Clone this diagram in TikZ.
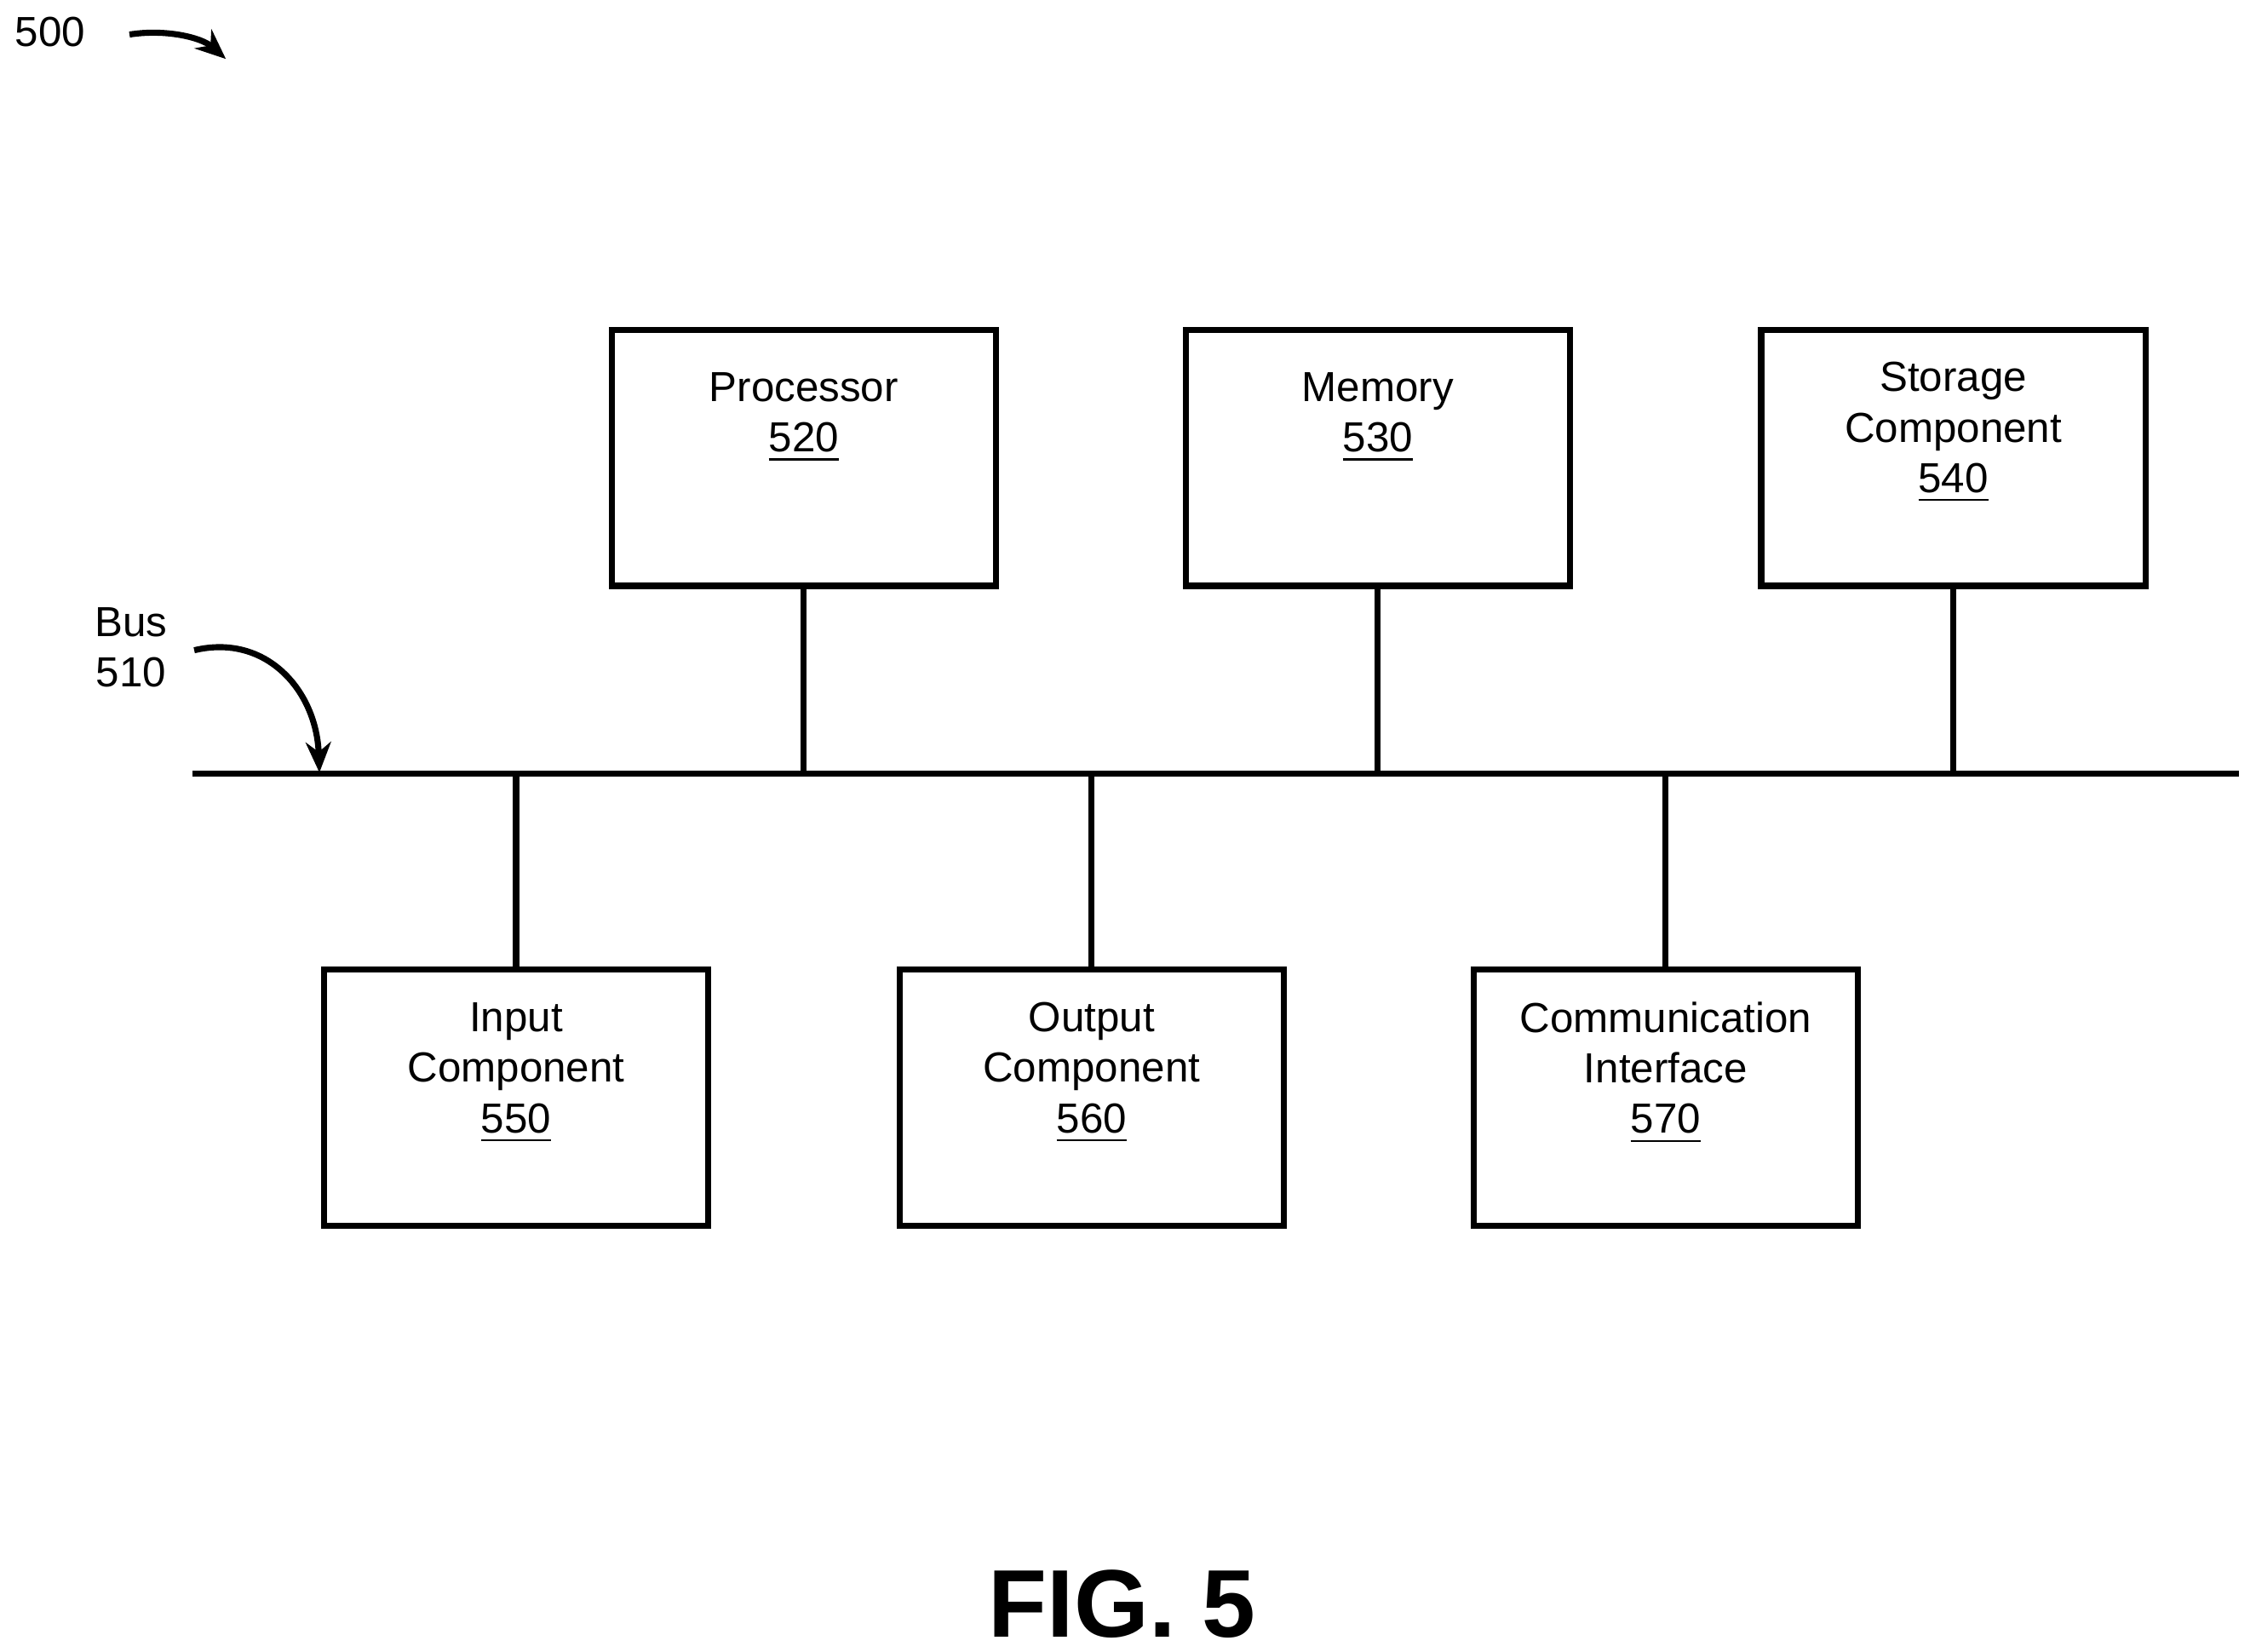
\documentclass[tikz,border=0pt]{standalone}
\usepackage{fontspec}
\setmainfont{Liberation Sans}
\usetikzlibrary{arrows.meta}
\begin{document}
\begin{tikzpicture}[x=0.01cm,y=-0.01cm,
 box/.style={draw,line width=1.2pt,minimum width=2.67cm,minimum height=1.78cm,anchor=north west,align=center,font=\fontsize{8.3pt}{10pt}\selectfont,inner sep=0pt},
 lbl/.style={font=\fontsize{8.3pt}{10pt}\selectfont,align=center},
 ln/.style={line width=1.2pt},
 arr/.style={line width=1.2pt,-{Stealth[length=6pt,width=5pt]}}]
\useasboundingbox (0,0) rectangle (1568,1148);
\node[box] (p) at (423,227) {Processor\\\underline{520}\\[8pt]};
\node[box] (m) at (822,227) {Memory\\\underline{530}\\[8pt]};
\node[box] (s) at (1222,227) {Storage\\Component\\\underline{540}\\[2pt]};
\node[box] (i) at (223,672) {Input\\Component\\\underline{550}\\[2pt]};
\node[box] (o) at (623,672) {Output\\Component\\\underline{560}\\[2pt]};
\node[box] (c) at (1022,672) {Communication\\Interface\\\underline{570}\\[2pt]};
\coordinate (b0) at (134,538);
\coordinate (b1) at (1556,538);
\draw[ln] (b0) -- (b1);
\foreach \n in {p,m,s}{\draw[ln] (\n.south) -- (\n.south |- b0);}
\foreach \n in {i,o,c}{\draw[ln] (\n.north) -- (\n.north |- b0);}
\node[lbl] (bus) at (91,450) {Bus\\510};
\coordinate (bt) at (222,537);
\draw[arr] (135,452) .. controls (185,440) and (220,480) .. (bt);
\node[lbl] (n500) at (35,22) {500};
\coordinate (t500) at (157,41);
\draw[arr] (90,24) .. controls (115,20) and (140,26) .. (t500);
\node[font=\fontsize{19pt}{22pt}\selectfont\bfseries] (fig) at (780,1115) {FIG. 5};
\end{tikzpicture}
\end{document}
